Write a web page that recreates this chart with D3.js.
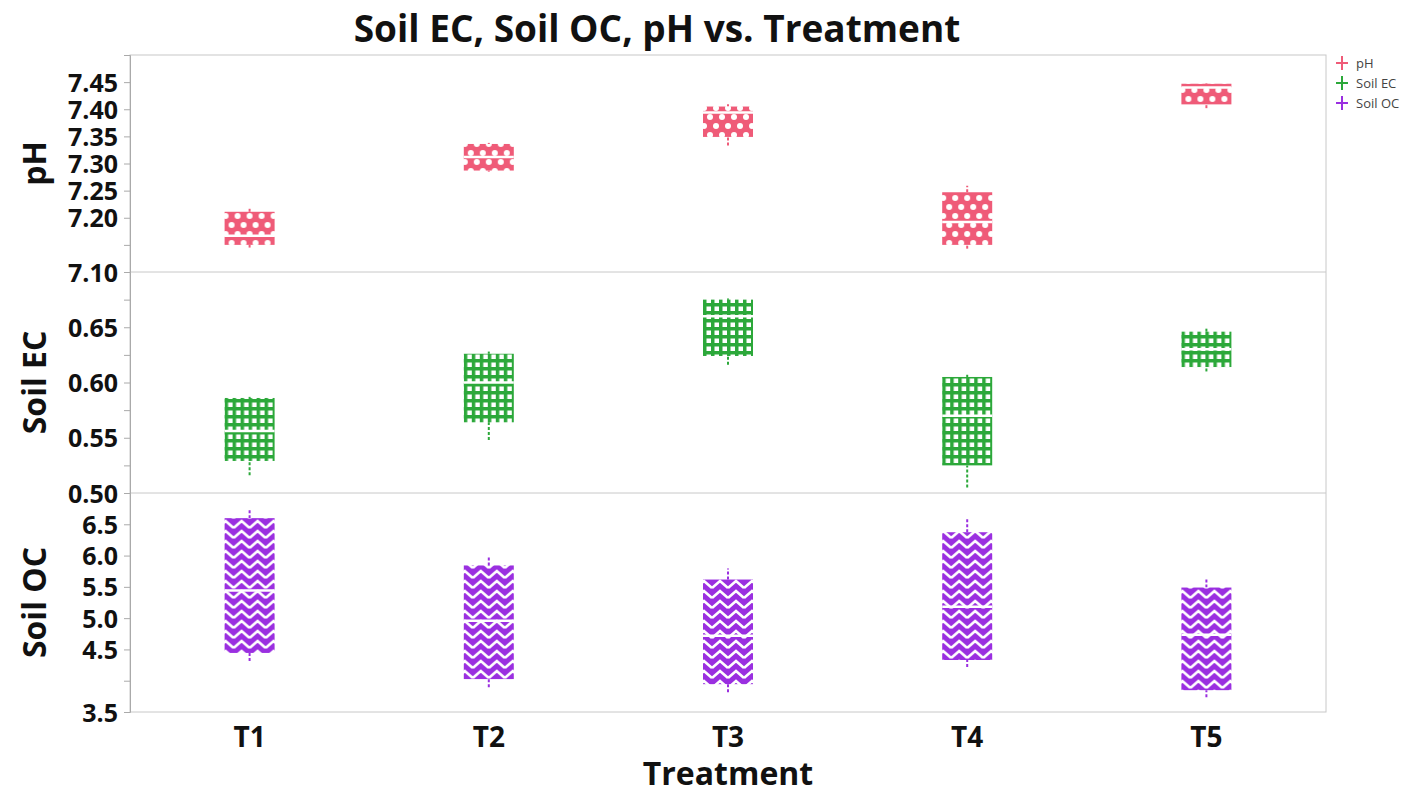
<!DOCTYPE html>
<html>
<head>
<meta charset="utf-8">
<script src="https://cdn.jsdelivr.net/npm/d3@7"></script>
<style>
  body { margin: 0; background: #fff; }
  text { font-family: "Open Sans", "DejaVu Sans", sans-serif; }
</style>
</head>
<body>
<script>
var width = 1416
var height = 796

var treatments = ["T1", "T2", "T3", "T4", "T5"]

// [min, q1, median, q3, max] per treatment
var phBoxes = [
  [7.145, 7.150, 7.167, 7.211, 7.220],
  [7.285, 7.287, 7.312, 7.336, 7.338],
  [7.333, 7.349, 7.394, 7.405, 7.409],
  [7.143, 7.150, 7.192, 7.247, 7.259],
  [7.402, 7.409, 7.440, 7.447, 7.448]
]
var ecBoxes = [
  [0.516, 0.529, 0.556, 0.586, 0.587],
  [0.548, 0.564, 0.600, 0.626, 0.628],
  [0.616, 0.624, 0.660, 0.675, 0.676],
  [0.505, 0.525, 0.570, 0.605, 0.607],
  [0.610, 0.614, 0.630, 0.646, 0.649]
]
var ocBoxes = [
  [4.315, 4.444, 5.440, 6.598, 6.727],
  [3.897, 4.026, 4.958, 5.842, 6.000],
  [3.817, 3.945, 4.717, 5.617, 5.794],
  [4.219, 4.331, 5.183, 6.373, 6.582],
  [3.736, 3.849, 4.733, 5.489, 5.617]
]

var phTicks = [7.10, 7.15, 7.20, 7.25, 7.30, 7.35, 7.40, 7.45]
var phLabels = ["7.10", "", "7.20", "7.25", "7.30", "7.35", "7.40", "7.45"]
var ecTicks = [0.50, 0.525, 0.55, 0.575, 0.60, 0.625, 0.65, 0.675]
var ecLabels = ["0.50", "", "0.55", "", "0.60", "", "0.65", ""]
var ocTicks = [3.5, 4.0, 4.5, 5.0, 5.5, 6.0, 6.5]
var ocLabels = ["3.5", "", "4.5", "5.0", "5.5", "6.0", "6.5"]

var plotL = 130, plotR = 1326, plotT = 55, plotB = 712
var panels = [
  { name: "pH", data: phBoxes, domain: [7.10, 7.50], ticks: phTicks, labels: phLabels,
    y0: plotT, y1: 272, color: "#ef5b78", fill: "url(#patPH)" },
  { name: "Soil EC", data: ecBoxes, domain: [0.50, 0.70], ticks: ecTicks, labels: ecLabels,
    y0: 272, y1: 493, color: "#2ca83a", fill: "url(#patEC)" },
  { name: "Soil OC", data: ocBoxes, domain: [3.5, 7.0], ticks: ocTicks, labels: ocLabels,
    y0: 493, y1: plotB, color: "#9a2fe0", fill: "url(#patOC)" }
]

var svg = d3.select("body").append("svg")
  .attr("width", width)
  .attr("height", height)

// fill patterns
var defs = svg.append("defs")

var pPH = defs.append("pattern").attr("id", "patPH")
  .attr("patternUnits", "userSpaceOnUse").attr("width", 12).attr("height", 18)
pPH.append("rect").attr("width", 12).attr("height", 18).attr("fill", "#ef5b78")
;[[0, 0], [12, 0], [6, 9], [0, 18], [12, 18]].forEach(function (p) {
  pPH.append("circle").attr("cx", p[0]).attr("cy", p[1]).attr("r", 3).attr("fill", "#fff")
})

var pEC = defs.append("pattern").attr("id", "patEC")
  .attr("patternUnits", "userSpaceOnUse").attr("width", 8).attr("height", 8)
pEC.append("rect").attr("width", 8).attr("height", 8).attr("fill", "#2ca83a")
pEC.append("rect").attr("x", 2.5).attr("y", 2.5).attr("width", 4.5).attr("height", 4.5).attr("fill", "#fff")

var pOC = defs.append("pattern").attr("id", "patOC")
  .attr("patternUnits", "userSpaceOnUse").attr("width", 16).attr("height", 10)
pOC.append("rect").attr("width", 16).attr("height", 10).attr("fill", "#9a2fe0")
pOC.append("path").attr("d", "M0,8 L8,1 L16,8 M0,18 L8,11 L16,18 M0,-2 L8,-9 L16,-2")
  .attr("fill", "none").attr("stroke", "#fff").attr("stroke-width", 2.6)

var x = d3.scaleBand().domain(treatments).range([plotL, plotR])

// frame
svg.append("rect").attr("x", plotL).attr("y", plotT)
  .attr("width", plotR - plotL).attr("height", plotB - plotT)
  .attr("fill", "none").attr("stroke", "#c8c8c8").attr("stroke-width", 1)

var boxW = 50

panels.forEach(function (p) {
  var y = d3.scaleLinear().domain(p.domain).range([p.y1, p.y0])

  if (p.y1 !== plotB) {
    svg.append("line").attr("x1", plotL).attr("x2", plotR)
      .attr("y1", p.y1).attr("y2", p.y1)
      .attr("stroke", "#c8c8c8")
  }

  var axis = d3.axisLeft(y).tickValues(p.ticks)
    .tickFormat(function (d, i) { return p.labels[i] })
    .tickSize(6).tickPadding(6)

  var g = svg.append("g").attr("transform", "translate(" + plotL + ",0)").call(axis)
  g.select(".domain").attr("stroke", "#aaa")
  g.selectAll(".tick line").attr("stroke", "#aaa")
  g.selectAll(".tick text")
    .attr("font-size", 25).attr("font-weight", 700).attr("fill", "#111")
    .attr("dy", "0.36em")

  svg.append("text")
    .attr("transform", "translate(46," + ((p.y0 + p.y1) / 2) + ") rotate(-90)")
    .attr("text-anchor", "middle")
    .attr("font-size", 32).attr("font-weight", 700).attr("fill", "#111")
    .text(p.name)

  var box = svg.append("g").selectAll("g")
    .data(p.data)
    .enter().append("g")
    .attr("transform", function (d, i) {
      return "translate(" + (x(treatments[i]) + x.bandwidth() / 2) + ",0)"
    })

  // whiskers
  box.append("line")
    .attr("y1", function (d) { return y(d[0]) })
    .attr("y2", function (d) { return y(d[1]) })
    .attr("stroke", p.color).attr("stroke-width", 2).attr("stroke-dasharray", "3,2")
  box.append("line")
    .attr("y1", function (d) { return y(d[3]) })
    .attr("y2", function (d) { return y(d[4]) })
    .attr("stroke", p.color).attr("stroke-width", 2).attr("stroke-dasharray", "3,2")

  box.append("rect")
    .attr("x", -boxW / 2).attr("width", boxW)
    .attr("y", function (d) { return y(d[3]) })
    .attr("height", function (d) { return y(d[1]) - y(d[3]) })
    .attr("fill", p.fill)

  box.append("line")
    .attr("x1", -boxW / 2).attr("x2", boxW / 2)
    .attr("y1", function (d) { return y(d[2]) })
    .attr("y2", function (d) { return y(d[2]) })
    .attr("stroke", "#fff").attr("stroke-width", 2.5)
})

// x axis
var xa = svg.append("g").attr("transform", "translate(0," + plotB + ")")
  .call(d3.axisBottom(x).tickSize(0).tickPadding(15))
xa.select(".domain").remove()
xa.selectAll(".tick text")
  .attr("font-size", 28).attr("font-weight", 700).attr("fill", "#111")

svg.append("text")
  .attr("x", (plotL + plotR) / 2).attr("y", 785)
  .attr("text-anchor", "middle")
  .attr("font-size", 32).attr("font-weight", 700).attr("fill", "#111")
  .text("Treatment")

svg.append("text")
  .attr("x", 657).attr("y", 42)
  .attr("text-anchor", "middle")
  .attr("font-size", 37).attr("font-weight", 700).attr("fill", "#111")
  .text("Soil EC, Soil OC, pH vs. Treatment")

// legend
var legend = svg.append("g").attr("transform", "translate(1336,63)")
  .selectAll("g").data(panels)
  .enter().append("g")
  .attr("transform", function (d, i) { return "translate(0," + i * 20 + ")" })
legend.append("line").attr("x1", 6).attr("x2", 6).attr("y1", -7).attr("y2", 7)
  .attr("stroke", function (d) { return d.color }).attr("stroke-width", 2)
legend.append("line").attr("x1", 0).attr("x2", 12).attr("y1", 0).attr("y2", 0)
  .attr("stroke", function (d) { return d.color }).attr("stroke-width", 2)
legend.append("text").attr("x", 20).attr("y", 5)
  .attr("font-size", 13).attr("fill", "#444")
  .text(function (d) { return d.name })
</script>
</body>
</html>
